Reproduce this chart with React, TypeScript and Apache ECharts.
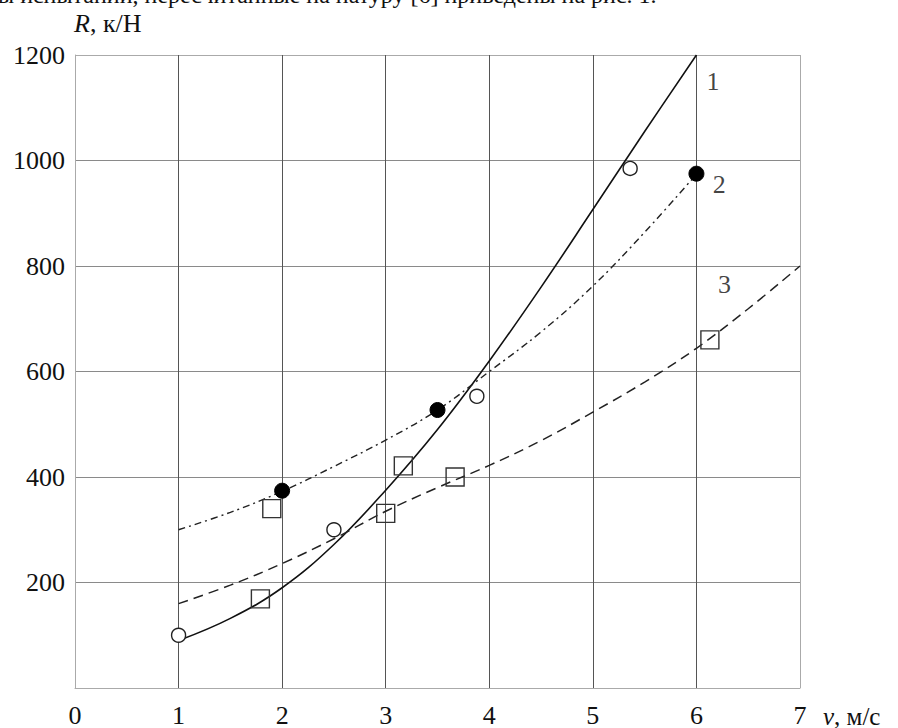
import React, { useEffect, useRef } from "react";
import * as echarts from "echarts";

const xTicks = [0, 1, 2, 3, 4, 5, 6, 7];
const yTicks = [0, 200, 400, 600, 800, 1000, 1200];

const curve1X = [1, 1.5, 2, 2.5, 3, 3.5, 4, 4.5, 5, 5.5, 6];
const curve1Y = [90, 132, 190, 272, 375, 490, 620, 760, 907, 1055, 1200];

const curve2X = [1, 1.5, 2, 2.5, 3, 3.5, 4, 4.5, 5, 5.5, 6];
const curve2Y = [300, 333, 373, 420, 470, 527, 600, 675, 762, 864, 974];

const curve3X = [1, 1.5, 2, 2.5, 3, 3.5, 4, 4.5, 5, 5.5, 6, 6.5, 7];
const curve3Y = [160, 195, 236, 283, 335, 380, 422, 469, 523, 580, 644, 719, 800];

const openCirclesX = [1, 2.5, 3.88, 5.36];
const openCirclesY = [100, 300, 553, 985];

const filledCirclesX = [2, 3.5, 6];
const filledCirclesY = [374, 527, 975];

const squaresX = [1.79, 1.9, 3.0, 3.17, 3.67, 6.13];
const squaresY = [169, 340, 331, 421, 400, 660];

const curveLabels = ["1", "2", "3"];
const curveLabelX = [6.16, 6.22, 6.27];
const curveLabelY = [1149, 954, 765];

const headerText = "ы испытаний, пересчитанные на натуру [6] приведены на рис. 1.";
const yAxisTitle = ["R", ", к/Н"];
const xAxisTitle = ["v", ", м/с"];

const FONT = "Liberation Serif";

const zip = (xs: number[], ys: number[]) => xs.map((x, i) => [x, ys[i]]);

export default function App() {
  const ref = useRef<HTMLDivElement>(null);
  useEffect(() => {
    if (!ref.current) return;
    const chart = echarts.init(ref.current, undefined, { renderer: "svg" });
    const lineBase = {
      type: "line" as const,
      smooth: 0.4,
      showSymbol: false,
      symbol: "none",
      silent: true,
      z: 2,
    };
    chart.setOption({
      animation: false,
      backgroundColor: "#ffffff",
      textStyle: { fontFamily: FONT },
      grid: {
        left: 75,
        right: 98,
        top: 55,
        bottom: 38,
        show: false,
      },
      xAxis: {
        type: "value",
        min: 0,
        max: 7,
        interval: 1,
        axisLine: { show: true, lineStyle: { color: "#aaaaaa", width: 1 } },
        axisTick: { show: false },
        axisLabel: {
          fontFamily: FONT,
          fontSize: 26,
          color: "#111111",
          margin: 14,
          formatter: (v: number) => (xTicks.includes(v) ? String(v) : ""),
        },
        splitLine: {
          show: true,
          lineStyle: {
            color: ["#aaaaaa", "#555555", "#555555", "#555555", "#555555", "#555555", "#555555", "#aaaaaa"],
            width: 1,
          },
        },
      },
      yAxis: {
        type: "value",
        min: 0,
        max: 1200,
        interval: 200,
        axisLine: { show: true, lineStyle: { color: "#aaaaaa", width: 1 } },
        axisTick: { show: false },
        axisLabel: {
          fontFamily: FONT,
          fontSize: 26,
          color: "#111111",
          margin: 10,
          formatter: (v: number) => (v === 0 || !yTicks.includes(v) ? "" : String(v)),
        },
        splitLine: {
          show: true,
          lineStyle: {
            color: ["#aaaaaa", "#8a8a8a", "#8a8a8a", "#8a8a8a", "#8a8a8a", "#8a8a8a", "#aaaaaa"],
            width: 1,
          },
        },
      },
      series: [
        {
          ...lineBase,
          name: "1",
          data: zip(curve1X, curve1Y),
          lineStyle: { color: "#111111", width: 1.6, type: "solid" },
        },
        {
          ...lineBase,
          name: "2",
          data: zip(curve2X, curve2Y),
          lineStyle: { color: "#222222", width: 1.4, type: [7, 4, 2, 4] },
        },
        {
          ...lineBase,
          name: "3",
          data: zip(curve3X, curve3Y),
          lineStyle: { color: "#222222", width: 1.5, type: [10, 6] },
        },
        {
          type: "scatter",
          name: "open",
          symbol: "circle",
          symbolSize: 14,
          z: 3,
          silent: true,
          data: zip(openCirclesX, openCirclesY),
          itemStyle: { color: "#ffffff", borderColor: "#222222", borderWidth: 1.4, opacity: 1 },
        },
        {
          type: "scatter",
          name: "filled",
          symbol: "circle",
          symbolSize: 15,
          z: 3,
          silent: true,
          data: zip(filledCirclesX, filledCirclesY),
          itemStyle: { color: "#000000", borderColor: "#000000", borderWidth: 1, opacity: 1 },
        },
        {
          type: "scatter",
          name: "squares",
          symbol: "rect",
          symbolSize: 18,
          z: 3,
          silent: true,
          data: zip(squaresX, squaresY),
          itemStyle: { color: "rgba(255,255,255,0)", borderColor: "#333333", borderWidth: 1.4, opacity: 1 },
        },
        {
          type: "scatter",
          name: "labels",
          symbolSize: 0,
          z: 4,
          silent: true,
          data: curveLabels.map((t, i) => ({ value: [curveLabelX[i], curveLabelY[i]], name: t })),
          label: {
            show: true,
            position: "inside",
            formatter: (p: any) => p.name,
            fontFamily: FONT,
            fontSize: 26,
            color: "#111111",
          },
        },
      ],
      graphic: [
        {
          type: "text",
          x: -2,
          y: -5,
          style: {
            text: headerText,
            fontFamily: FONT,
            fontSize: 24,
            fill: "#111111",
            verticalAlign: "middle",
            align: "left",
          },
        },
        {
          type: "text",
          x: 74,
          y: 23,
          style: {
            text: `{i|${yAxisTitle[0]}}{n|${yAxisTitle[1]}}`,
            verticalAlign: "middle",
            align: "left",
            rich: {
              i: { fontFamily: FONT, fontSize: 26, fontStyle: "italic", fill: "#111111" },
              n: { fontFamily: FONT, fontSize: 26, fill: "#111111" },
            },
          },
        },
        {
          type: "text",
          x: 823,
          y: 716,
          style: {
            text: `{i|${xAxisTitle[0]}}{n|${xAxisTitle[1]}}`,
            verticalAlign: "middle",
            align: "left",
            rich: {
              i: { fontFamily: FONT, fontSize: 25, fontStyle: "italic", fill: "#111111" },
              n: { fontFamily: FONT, fontSize: 25, fill: "#111111" },
            },
          },
        },
      ],
    });
    return () => chart.dispose();
  }, []);
  return (
    <div
      ref={ref}
      style={{ position: "fixed", left: 0, top: 0, width: 898, height: 728 }}
    />
  );
}
